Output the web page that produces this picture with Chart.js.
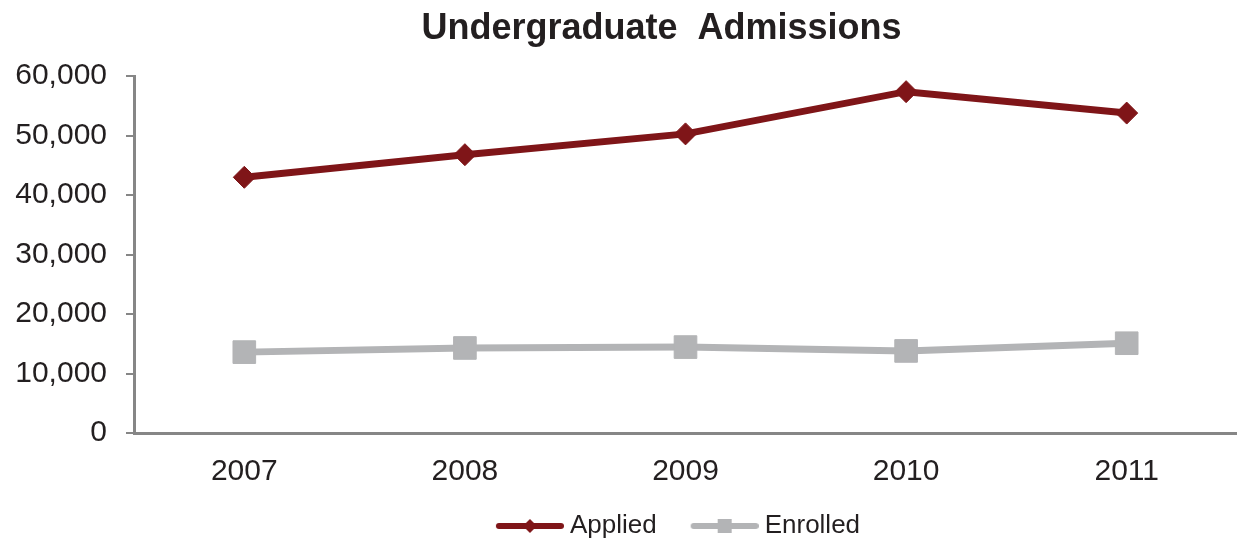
<!DOCTYPE html>
<html>
<head>
<meta charset="utf-8">
<title>Undergraduate Admissions</title>
<script src="https://cdn.jsdelivr.net/npm/chart.js@4.4.1/dist/chart.umd.min.js"></script>
<style>
  html, body { margin: 0; padding: 0; background: #fff; overflow: hidden; }
  canvas { display: block; }
</style>
</head>
<body>
<canvas id="admissionsChart" width="1237" height="540"></canvas>
<script>
// values
const years = ["2007", "2008", "2009", "2010", "2011"];
const applied = [43000, 46800, 50300, 57400, 53800];
const enrolled = [13600, 14300, 14450, 13800, 15100];
const yTicks = [0, 10000, 20000, 30000, 40000, 50000, 60000];

const appliedColor = "#7f1518";
const enrolledColor = "#b3b4b6";
const axisColor = "#868686";
const textColor = "#231f20";
const fontFamily = "'Liberation Sans', Arial, sans-serif";

// little line + marker picture used as the legend symbol
function legendSymbol(color, marker) {
    const c = document.createElement("canvas");
    c.width = 90;
    c.height = 20;
    const g = c.getContext("2d");
    g.strokeStyle = color;
    g.fillStyle = color;
    g.lineWidth = 6;
    g.lineCap = "round";
    g.beginPath();
    g.moveTo(25, 10);
    g.lineTo(87, 10);
    g.stroke();
    const cx = 56;
    g.beginPath();
    if (marker === "diamond") {
        g.moveTo(cx - 7, 10);
        g.lineTo(cx, 3);
        g.lineTo(cx + 7, 10);
        g.lineTo(cx, 17);
        g.closePath();
    } else {
        g.rect(cx - 7, 3, 14, 14);
    }
    g.fill();
    return c;
}

const symbols = [legendSymbol(appliedColor, "diamond"), legendSymbol(enrolledColor, "square")];

// Excel centres the title and legend a bit left of where Chart.js puts them
const nudgeBlocks = {
    id: "nudgeBlocks",
    afterLayout(chart) {
        if (chart.titleBlock) {
            chart.titleBlock.left = 86;
            chart.titleBlock.right = chart.width;
        }
        if (chart.legend) chart.legend.left -= 30;
    }
};

new Chart(document.getElementById("admissionsChart"), {
    type: "line",
    data: {
        labels: years,
        datasets: [{
            label: "Applied",
            data: applied,
            borderColor: appliedColor,
            backgroundColor: appliedColor,
            borderWidth: 7,
            pointStyle: "rectRot",
            pointRadius: 11,
            pointHoverRadius: 11,
            pointBorderWidth: 1,
            tension: 0
        }, {
            label: "Enrolled",
            data: enrolled,
            borderColor: enrolledColor,
            backgroundColor: enrolledColor,
            borderWidth: 7,
            pointStyle: "rect",
            pointRadius: 16,
            pointHoverRadius: 16,
            pointBorderWidth: 1,
            tension: 0
        }]
    },
    plugins: [nudgeBlocks],
    options: {
        responsive: false,
        animation: false,
        layout: { autoPadding: false, padding: { left: 0, right: 0, top: 0, bottom: -9 } },
        plugins: {
            title: {
                display: true,
                text: "Undergraduate  Admissions",
                color: textColor,
                font: { family: fontFamily, size: 36, weight: "bold" },
                padding: { top: 7, bottom: 26 }
            },
            legend: {
                position: "bottom",
                fullSize: false,
                labels: {
                    usePointStyle: true,
                    pointStyleWidth: 76,
                    padding: 19,
                    color: textColor,
                    font: { family: fontFamily, size: 26 },
                    generateLabels: chart => chart.data.datasets.map((ds, i) => ({
                        text: ds.label,
                        pointStyle: symbols[i],
                        fillStyle: ds.borderColor,
                        strokeStyle: ds.borderColor,
                        lineWidth: 0,
                        fontColor: textColor,
                        datasetIndex: i,
                        hidden: false
                    }))
                }
            },
            tooltip: { enabled: false }
        },
        scales: {
            x: {
                offset: true,
                grid: { display: false },
                border: { display: true, color: axisColor, width: 3 },
                ticks: {
                    color: textColor,
                    padding: 13,
                    font: { family: fontFamily, size: 30 }
                },
                afterFit: scale => {
                    scale.height = 61;
                    scale.paddingLeft = 0;
                    scale.paddingRight = 0;
                }
            },
            y: {
                min: 0,
                max: 60000,
                afterBuildTicks: scale => { scale.ticks = yTicks.map(v => ({ value: v })); },
                grid: {
                    drawOnChartArea: false,
                    drawTicks: true,
                    tickLength: 8,
                    color: axisColor,
                    lineWidth: 2
                },
                border: { display: true, color: axisColor, width: 3 },
                ticks: {
                    color: textColor,
                    padding: 19,
                    font: { family: fontFamily, size: 30 },
                    callback: v => v.toLocaleString("en-US")
                },
                afterFit: scale => { scale.width = 134; }
            }
        }
    }
});
</script>
</body>
</html>
